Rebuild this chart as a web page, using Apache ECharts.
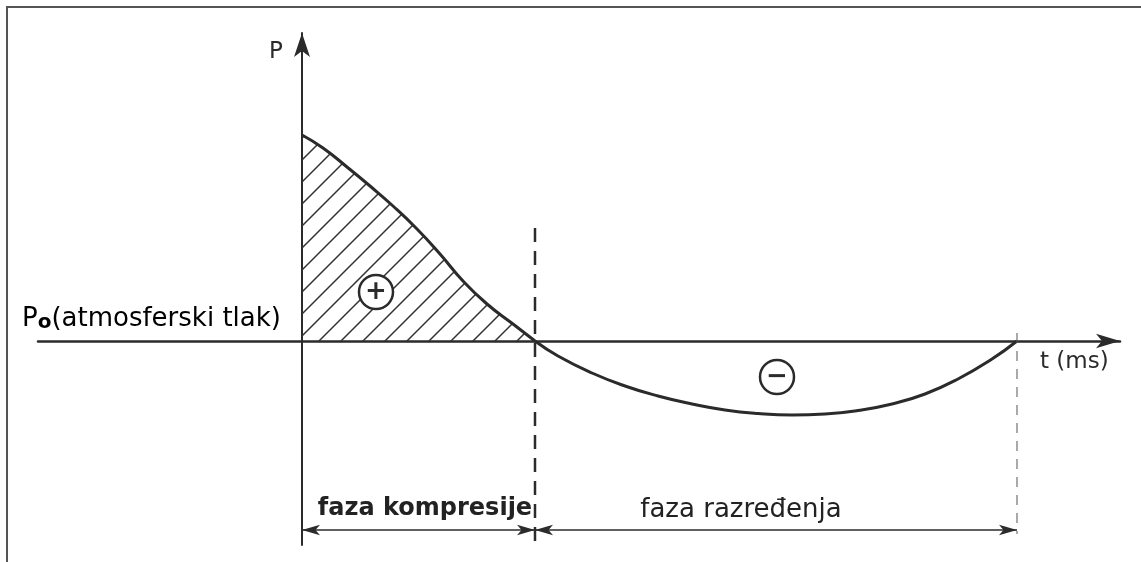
<!DOCTYPE html>
<html>
<head>
<meta charset="utf-8">
<title>faza kompresije / faza razređenja</title>
<script src="https://cdn.jsdelivr.net/npm/echarts@6/dist/echarts.min.js"></script>
<style>
  html, body { margin: 0; padding: 0; background: #fff; }
  #main { width: 1141px; height: 562px; }
</style>
</head>
<body>
<div id="main"></div>
<script>
// tlak (P - Po) u ovisnosti o vremenu, ocitano sa slike
var compT = [0, 2.1, 4.5, 6.8, 9.1, 11.5, 13.8, 16.1, 18.5, 21.1, 23.3];
var compP = [20.6, 19.3, 17.4, 15.5, 13.5, 11.2, 8.7, 6.0, 3.7, 1.7, 0];
var rarT = [23.3, 25.6, 29.0, 32.3, 35.6, 39.0, 42.3, 45.6, 49.0, 52.3, 55.6, 59.0, 62.3, 65.6, 69.0, 71.5];
var rarP = [0, -1.5, -3.2, -4.5, -5.5, -6.3, -6.9, -7.25, -7.4, -7.3, -6.95, -6.3, -5.3, -3.8, -1.8, 0];

// granice faza i kotna linija
var phaseT = [0, 23.3, 71.5];
var dimP = -18.9;
var guideTop = [11.3, 0.8];
var guideBottom = [-20.4, -19.3];

// oznake + i -
var signT = [7.4, 47.5];
var signP = [4.9, -3.6];
var signText = ['+', '\u2212'];

var axisRange = { tMin: -26.4, tMax: 81.8, pMin: -20.4, pMax: 30.8 };

var ink = '#2b2b2b';

function pairs(xs, ys) {
  return xs.map(function (x, i) { return [x, ys[i]]; });
}

// srafura za podrucje kompresije
function hatchPattern() {
  var s = 22;
  var c = document.createElement('canvas');
  c.width = s;
  c.height = s;
  var ctx = c.getContext('2d');
  ctx.strokeStyle = '#333';
  ctx.lineWidth = 1.5;
  ctx.beginPath();
  ctx.moveTo(0, s);
  ctx.lineTo(s, 0);
  ctx.moveTo(-2, 2);
  ctx.lineTo(2, -2);
  ctx.moveTo(s - 2, s + 2);
  ctx.lineTo(s + 2, s - 2);
  ctx.stroke();
  return c;
}

var chart = echarts.init(document.getElementById('main'));

var option = {
  animation: false,
  backgroundColor: '#fff',
  grid: { left: 38, right: 21, top: 33, bottom: 17 },
  xAxis: {
    type: 'value',
    min: axisRange.tMin,
    max: axisRange.tMax,
    axisLine: {
      onZero: true,
      symbol: ['none', 'arrow'],
      symbolSize: [11, 24],
      lineStyle: { color: ink, width: 2.5 }
    },
    axisTick: { show: false },
    axisLabel: { show: false },
    splitLine: { show: false }
  },
  yAxis: {
    type: 'value',
    min: axisRange.pMin,
    max: axisRange.pMax,
    axisLine: {
      onZero: true,
      symbol: ['none', 'arrow'],
      symbolSize: [12, 24],
      lineStyle: { color: ink, width: 2 }
    },
    axisTick: { show: false },
    axisLabel: { show: false },
    splitLine: { show: false }
  },
  graphic: [
    // okvir
    {
      type: 'polyline',
      shape: { points: [[7, 562], [7, 7], [1141, 7]] },
      style: { stroke: '#555', lineWidth: 2, fill: null }
    },
    {
      type: 'text', x: 269, y: 52,
      style: { text: 'P', font: '23px "DejaVu Sans"', fill: ink, verticalAlign: 'middle' }
    },
    {
      type: 'text', x: 22, y: 319,
      style: {
        text: '{a|P}{s|o}{a|(atmosferski tlak)}',
        verticalAlign: 'middle',
        rich: {
          a: { fontFamily: 'DejaVu Sans', fontSize: 26, color: ink },
          s: { fontFamily: 'DejaVu Sans', fontSize: 20, fontWeight: 'bold', color: ink, padding: [8, 0, 0, 0] }
        }
      }
    },
    {
      type: 'text', x: 1040, y: 362,
      style: { text: 't (ms)', font: '23px "DejaVu Sans"', fill: ink, verticalAlign: 'middle' }
    },
    {
      type: 'text', x: 425, y: 509,
      style: { text: 'faza kompresije', font: 'bold 24px "DejaVu Sans"', fill: '#222', align: 'center', verticalAlign: 'middle' }
    },
    {
      type: 'text', x: 741, y: 510,
      style: { text: 'faza razređenja', font: '26px "DejaVu Sans"', fill: '#222', align: 'center', verticalAlign: 'middle' }
    }
  ],
  series: [
    {
      name: 'kompresija',
      type: 'line',
      data: pairs(compT, compP),
      smooth: 0.5,
      symbol: 'none',
      lineStyle: { color: ink, width: 3 },
      areaStyle: { color: { image: hatchPattern(), repeat: 'repeat' }, opacity: 1 },
      z: 3
    },
    {
      name: 'razredjenje',
      type: 'line',
      data: pairs(rarT, rarP),
      smooth: 0.5,
      symbol: 'none',
      lineStyle: { color: ink, width: 3 },
      z: 3
    },
    {
      name: 'granica kompresije',
      type: 'line',
      data: [[phaseT[1], guideTop[0]], [phaseT[1], guideBottom[0]]],
      symbol: 'none',
      lineStyle: { color: ink, width: 2.5, type: [14, 9] },
      markLine: {
        silent: true,
        symbol: ['arrow', 'arrow'],
        symbolSize: [8, 18],
        label: { show: false },
        lineStyle: { color: ink, width: 1.5, type: 'solid' },
        data: [
          [{ coord: [phaseT[0], dimP] }, { coord: [phaseT[1], dimP] }],
          [{ coord: [phaseT[1], dimP] }, { coord: [phaseT[2], dimP] }]
        ]
      }
    },
    {
      name: 'granica razredjenja',
      type: 'line',
      data: [[phaseT[2], guideTop[1]], [phaseT[2], guideBottom[1]]],
      symbol: 'none',
      lineStyle: { color: '#555', width: 1, type: [10, 8] }
    },
    {
      name: 'predznak',
      type: 'scatter',
      data: pairs(signT, signP),
      symbol: 'circle',
      symbolSize: 34,
      itemStyle: { color: '#fff', borderColor: ink, borderWidth: 2.5, opacity: 1 },
      label: {
        show: true,
        position: 'inside',
        formatter: function (p) { return signText[p.dataIndex]; },
        fontFamily: 'DejaVu Sans',
        fontSize: 26,
        fontWeight: 'bold',
        color: ink
      },
      z: 4
    }
  ]
};

chart.setOption(option);
</script>
</body>
</html>
